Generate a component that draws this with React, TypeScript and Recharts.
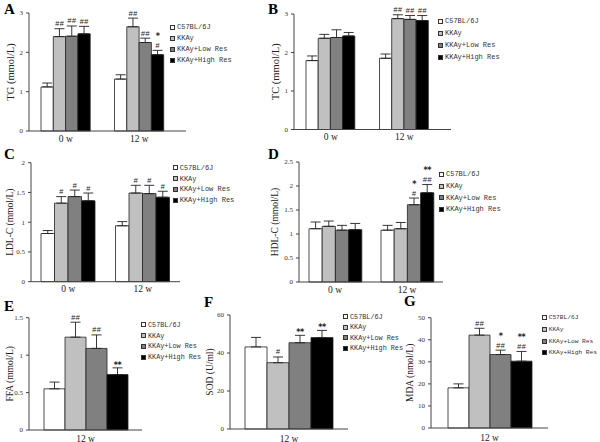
import React from "react";
import { BarChart, Bar, XAxis, YAxis, ErrorBar, LabelList } from "recharts";

const groups = ["C57BL/6J", "KKAy", "KKAy+Low Res", "KKAy+High Res"];
const groupKeys = ["c57", "kkay", "low", "high"];
const groupColors = ["#ffffff", "#c0c0c0", "#808080", "#000000"];

const weeks = ["0 w", "12 w"];
const week12 = ["12 w"];

// A - TG (mmol/L), rows = weeks, cols = groups
const tgMean = [[1.12, 2.4, 2.41, 2.47], [1.32, 2.65, 2.25, 1.94]];
const tgErr = [[0.1, 0.2, 0.26, 0.19], [0.11, 0.22, 0.11, 0.11]];
const tgMarks = [["", "##", "##", "##"], ["", "##", "##", "*\n#"]];

// B - TC (mmol/L)
const tcMean = [[1.79, 2.37, 2.39, 2.43], [1.85, 2.88, 2.86, 2.83]];
const tcErr = [[0.12, 0.1, 0.2, 0.09], [0.11, 0.1, 0.1, 0.13]];
const tcMarks = [["", "", "", ""], ["", "##", "##", "##"]];

// C - LDL-C (mmol/L)
const ldlMean = [[0.81, 1.32, 1.43, 1.36], [0.94, 1.49, 1.48, 1.42]];
const ldlErr = [[0.05, 0.11, 0.11, 0.13], [0.07, 0.13, 0.14, 0.1]];
const ldlMarks = [["", "#", "#", "#"], ["", "#", "#", "#"]];

// D - HDL-C (mmol/L)
const hdlMean = [[1.11, 1.16, 1.08, 1.09], [1.08, 1.11, 1.61, 1.86]];
const hdlErr = [[0.14, 0.11, 0.1, 0.13], [0.1, 0.13, 0.14, 0.17]];
const hdlMarks = [["", "", "", ""], ["", "", "*\n#", "**\n##"]];

// E - FFA (mmol/L), 12 w only
const ffaMean = [[0.55, 1.24, 1.09, 0.74]];
const ffaErr = [[0.09, 0.2, 0.18, 0.09]];
const ffaMarks = [["", "##", "##", "**"]];

// F - SOD (U/ml)
const sodMean = [[43.2, 34.9, 45.4, 48.1]];
const sodErr = [[5.0, 3.0, 3.9, 3.8]];
const sodMarks = [["", "#", "**", "**"]];

// G - MDA (nmol/L)
const mdaMean = [[18.2, 42.1, 33.3, 30.3]];
const mdaErr = [[1.8, 3.1, 2.0, 4.4]];
const mdaMarks = [["", "##", "*\n##", "**\n##"]];

const SERIF = "'Liberation Serif', 'Times New Roman', serif";
const MONO = "'Liberation Mono', 'DejaVu Sans Mono', monospace";
const SANS = "'DejaVu Sans', sans-serif";
const Y_W = 22;
const X_H = 14;

function buildRows(cats: string[], mean: number[][], err: number[][], marks: string[][]) {
  return cats.map((week, wi) => {
    const row: any = { week };
    groupKeys.forEach((k, gi) => {
      row[k] = mean[wi][gi];
      row[k + "Err"] = [0, err[wi][gi]];
      row[k + "Mark"] = marks[wi][gi];
    });
    return row;
  });
}

interface PanelCfg {
  letter: string;
  x: number; y: number; w: number; h: number;
  axisX: number; axisEnd: number; plotTop: number; plotBottom: number;
  domain: [number, number]; ticks: number[];
  barSize: number; padRight: number;
  yLabel: string; yLabelSize: number; tickDy: number;
  cats: string[]; mean: number[][]; err: number[][]; marks: string[][];
  legend: { x: number; y: number; step: number; size: number };
  letterPos: { x: number; y: number };
}

const panels: PanelCfg[] = [
  {
    letter: "A", x: 0, y: 0, w: 265, h: 145,
    axisX: 29, axisEnd: 186, plotTop: 13, plotBottom: 131,
    domain: [0, 3], ticks: [0, 1, 2, 3], barSize: 12.3, padRight: 10,
    yLabel: "TG (mmol/L)", yLabelSize: 10.5, tickDy: 10.5,
    cats: weeks, mean: tgMean, err: tgErr, marks: tgMarks,
    legend: { x: 170, y: 21.5, step: 11, size: 7 }, letterPos: { x: 4, y: 2 },
  },
  {
    letter: "B", x: 265, y: 0, w: 335, h: 145,
    axisX: 294, axisEnd: 451, plotTop: 14, plotBottom: 129.5,
    domain: [0, 3], ticks: [0, 1, 2, 3], barSize: 12.2, padRight: 10,
    yLabel: "TC (mmol/L)", yLabelSize: 10.5, tickDy: 10.5,
    cats: weeks, mean: tcMean, err: tcErr, marks: tcMarks,
    legend: { x: 438, y: 15, step: 12, size: 7 }, letterPos: { x: 268, y: 2 },
  },
  {
    letter: "C", x: 0, y: 145, w: 265, h: 150,
    axisX: 31, axisEnd: 180, plotTop: 162.7, plotBottom: 281.7,
    domain: [0, 2], ticks: [0, 0.5, 1, 1.5, 2], barSize: 13.5, padRight: 0,
    yLabel: "LDL-C (mmol/L)", yLabelSize: 9.5, tickDy: 10.5,
    cats: weeks, mean: ldlMean, err: ldlErr, marks: ldlMarks,
    legend: { x: 172.7, y: 162.5, step: 10.8, size: 7 }, letterPos: { x: 4, y: 147 },
  },
  {
    letter: "D", x: 265, y: 145, w: 335, h: 150,
    axisX: 299, axisEnd: 443, plotTop: 162, plotBottom: 282,
    domain: [0, 2.5], ticks: [0, 0.5, 1, 1.5, 2, 2.5], barSize: 13.2, padRight: 0,
    yLabel: "HDL-C (mmol/L)", yLabelSize: 9.5, tickDy: 10.5,
    cats: weeks, mean: hdlMean, err: hdlErr, marks: hdlMarks,
    legend: { x: 439, y: 168.5, step: 11.7, size: 7 }, letterPos: { x: 268, y: 147 },
  },
  {
    letter: "E", x: 0, y: 295, w: 200, h: 147,
    axisX: 29, axisEnd: 142, plotTop: 317.7, plotBottom: 430,
    domain: [0, 1.5], ticks: [0, 0.5, 1, 1.5], barSize: 21, padRight: 0,
    yLabel: "FFA (mmol/L)", yLabelSize: 9.5, tickDy: 11.5,
    cats: week12, mean: ffaMean, err: ffaErr, marks: ffaMarks,
    legend: { x: 141, y: 319.6, step: 10.7, size: 6.8 }, letterPos: { x: 4, y: 299 },
  },
  {
    letter: "F", x: 200, y: 295, w: 200, h: 147,
    axisX: 230, axisEnd: 348, plotTop: 315, plotBottom: 429,
    domain: [0, 60], ticks: [0, 20, 40, 60], barSize: 22, padRight: 0,
    yLabel: "SOD (U/ml)", yLabelSize: 9.5, tickDy: 12.5,
    cats: week12, mean: sodMean, err: sodErr, marks: sodMarks,
    legend: { x: 343, y: 311.7, step: 10.5, size: 6.8 }, letterPos: { x: 204, y: 295 },
  },
  {
    letter: "G", x: 400, y: 295, w: 200, h: 147,
    axisX: 431, axisEnd: 548, plotTop: 317.7, plotBottom: 428,
    domain: [0, 50], ticks: [0, 10, 20, 30, 40, 50], barSize: 21, padRight: 0,
    yLabel: "MDA (nmol/L)", yLabelSize: 9.5, tickDy: 13,
    cats: week12, mean: mdaMean, err: mdaErr, marks: mdaMarks,
    legend: { x: 541.7, y: 312, step: 11.7, size: 6.2 }, letterPos: { x: 404, y: 294 },
  },
];

const Panel = ({ p }: { p: PanelCfg }) => {
  const rows = buildRows(p.cats, p.mean, p.err, p.marks);
  const margin = {
    top: p.plotTop - p.y,
    left: p.axisX - p.x - Y_W,
    right: p.x + p.w - p.axisEnd,
    bottom: p.y + p.h - p.plotBottom - X_H,
  };
  const midY = (p.plotTop + p.plotBottom) / 2 - p.y;

  const WeekTick = (props: any) => (
    <text x={props.x} y={props.y + p.tickDy} textAnchor="middle" fontSize={9.5} fontFamily={SERIF} fill="#222">
      {props.payload.value}
    </text>
  );

  // significance marks drawn above the error bar cap, last line nearest the cap
  const markLabel = (gi: number) => (props: any) => {
    const { x, y, width, height, value, index } = props;
    if (!value) return null;
    const m = p.mean[index][gi];
    const e = p.err[index][gi];
    const top = Number(y) - (Number(height) * e) / m;
    const lines = String(value).split("\n");
    const cx = Number(x) + Number(width) / 2;
    return (
      <g>
        {lines.map((s, j) => {
          const star = s.includes("*");
          const above = lines.length - 1 - j;
          let ly = top - 2.5 - above * 9;
          if (star && above === 0) ly += 2.5;
          return (
            <text
              key={j}
              x={cx}
              y={ly}
              textAnchor="middle"
              fontSize={star ? 8 : 7.5}
              fontWeight={star ? 700 : 400}
              fontFamily={star ? SANS : MONO}
              letterSpacing={star ? -0.5 : 0}
              fill="#222"
            >
              {s}
            </text>
          );
        })}
      </g>
    );
  };

  return (
    <div style={{ position: "absolute", left: p.x, top: p.y, width: p.w, height: p.h }}>
      <BarChart width={p.w} height={p.h} data={rows} margin={margin} barGap={0} barSize={p.barSize}>
        <XAxis
          dataKey="week"
          height={X_H}
          tickLine={false}
          tickSize={0}
          tickMargin={0}
          stroke="#444"
          tick={<WeekTick />}
          padding={{ left: 0, right: p.padRight }}
        />
        <YAxis
          width={Y_W}
          domain={p.domain}
          ticks={p.ticks}
          tickSize={3}
          tickMargin={3}
          stroke="#444"
          tick={{ fontSize: 7, fill: "#333", fontFamily: SERIF }}
          label={() => (
            <text
              x={10}
              y={midY}
              transform={`rotate(-90 10 ${midY})`}
              textAnchor="middle"
              dominantBaseline="central"
              fontSize={p.yLabelSize}
              fontFamily={SERIF}
              fill="#222"
            >
              {p.yLabel}
            </text>
          )}
        />
        {groupKeys.map((k, gi) => (
          <Bar key={k} dataKey={k} name={groups[gi]} fill={groupColors[gi]} stroke="#222" strokeWidth={0.8} isAnimationActive={false}>
            <ErrorBar dataKey={k + "Err"} width={5} stroke="#222" strokeWidth={0.9} direction="y" />
            <LabelList dataKey={k + "Mark"} content={markLabel(gi)} />
          </Bar>
        ))}
      </BarChart>

      <div style={{ position: "absolute", left: p.legend.x - p.x, top: p.legend.y - p.y }}>
        {groups.map((g, gi) => (
          <div key={g} style={{ display: "flex", alignItems: "center", height: p.legend.step, gap: 2 }}>
            <span
              style={{
                width: 5,
                height: 5,
                boxSizing: "border-box",
                border: "1px solid #333",
                background: groupColors[gi],
                display: "inline-block",
                flexShrink: 0,
              }}
            />
            <span style={{ fontFamily: MONO, fontSize: p.legend.size, color: "#333", whiteSpace: "nowrap" }}>{g}</span>
          </div>
        ))}
      </div>

      <div
        style={{
          position: "absolute",
          left: p.letterPos.x - p.x,
          top: p.letterPos.y - p.y,
          fontFamily: SERIF,
          fontWeight: 700,
          fontSize: 15,
          lineHeight: "15px",
          color: "#000",
        }}
      >
        {p.letter}
      </div>
    </div>
  );
};

export default function App() {
  return (
    <div style={{ position: "absolute", left: 0, top: 0, width: 600, height: 442, background: "#fff", overflow: "hidden" }}>
      {panels.map((p) => (
        <Panel key={p.letter} p={p} />
      ))}
    </div>
  );
}
